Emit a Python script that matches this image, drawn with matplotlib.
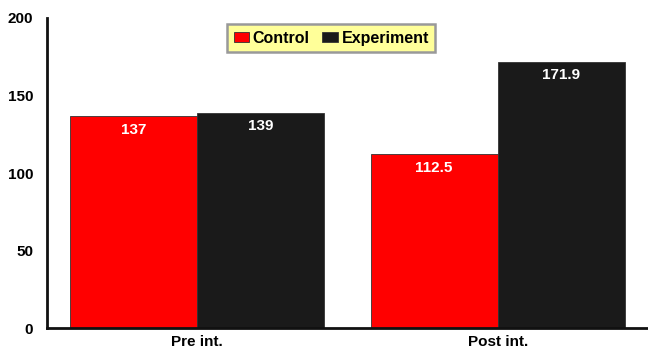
import numpy as np
import matplotlib.pyplot as plt

plt.rcParams['font.family'] = ['Liberation Sans', 'DejaVu Sans']
plt.rcParams['font.weight'] = 'bold'

groups = ['Pre int.', 'Post int.']
control = [137, 112.5]
experiment = [139, 171.9]
yticks = [0, 50, 100, 150, 200]

fig = plt.figure(figsize=(6.48, 3.52), dpi=100)
ax = fig.add_axes([0.0725, 0.068, 0.9275, 0.881])

x = np.arange(len(groups))
w = 0.423
b1 = ax.bar(x - w / 2, control, w, color='#ff0000', edgecolor='#333333', linewidth=0.6, label='Control')
b2 = ax.bar(x + w / 2, experiment, w, color='#1a1a1a', edgecolor='#333333', linewidth=0.6, label='Experiment')

for bars, vals in ((b1, control), (b2, experiment)):
    for rect, v in zip(bars, vals):
        ax.text(rect.get_x() + rect.get_width() / 2, v - 9, f'{v:g}',
                ha='center', va='center', color='white', fontsize=11, fontweight='bold')

ax.set_xlim(-0.5, 1.5)
ax.set_ylim(0, 200)
ax.set_xticks(x)
ax.set_xticklabels(groups, fontsize=11, fontweight='bold')
ax.set_yticks(yticks)
ax.set_yticklabels([str(t) for t in yticks], fontsize=11, fontweight='bold')
ax.tick_params(length=0, pad=10)
ax.tick_params(axis='x', pad=5)

for side in ('top', 'right'):
    ax.spines[side].set_visible(False)
for side in ('left', 'bottom'):
    ax.spines[side].set_linewidth(2)
    ax.spines[side].set_color('#111111')

leg = ax.legend(loc='upper center', bbox_to_anchor=(0.473, 1.005), ncol=2, frameon=True,
                fancybox=False, fontsize=11.5, handlelength=1.0, handleheight=0.6,
                handletextpad=0.2, columnspacing=0.8, borderpad=0.4)
leg.get_frame().set_facecolor('#ffff99')
leg.get_frame().set_edgecolor('#999999')
leg.get_frame().set_linewidth(1.8)
leg.get_frame().set_alpha(1)

fig.savefig('out.png', dpi=100)
